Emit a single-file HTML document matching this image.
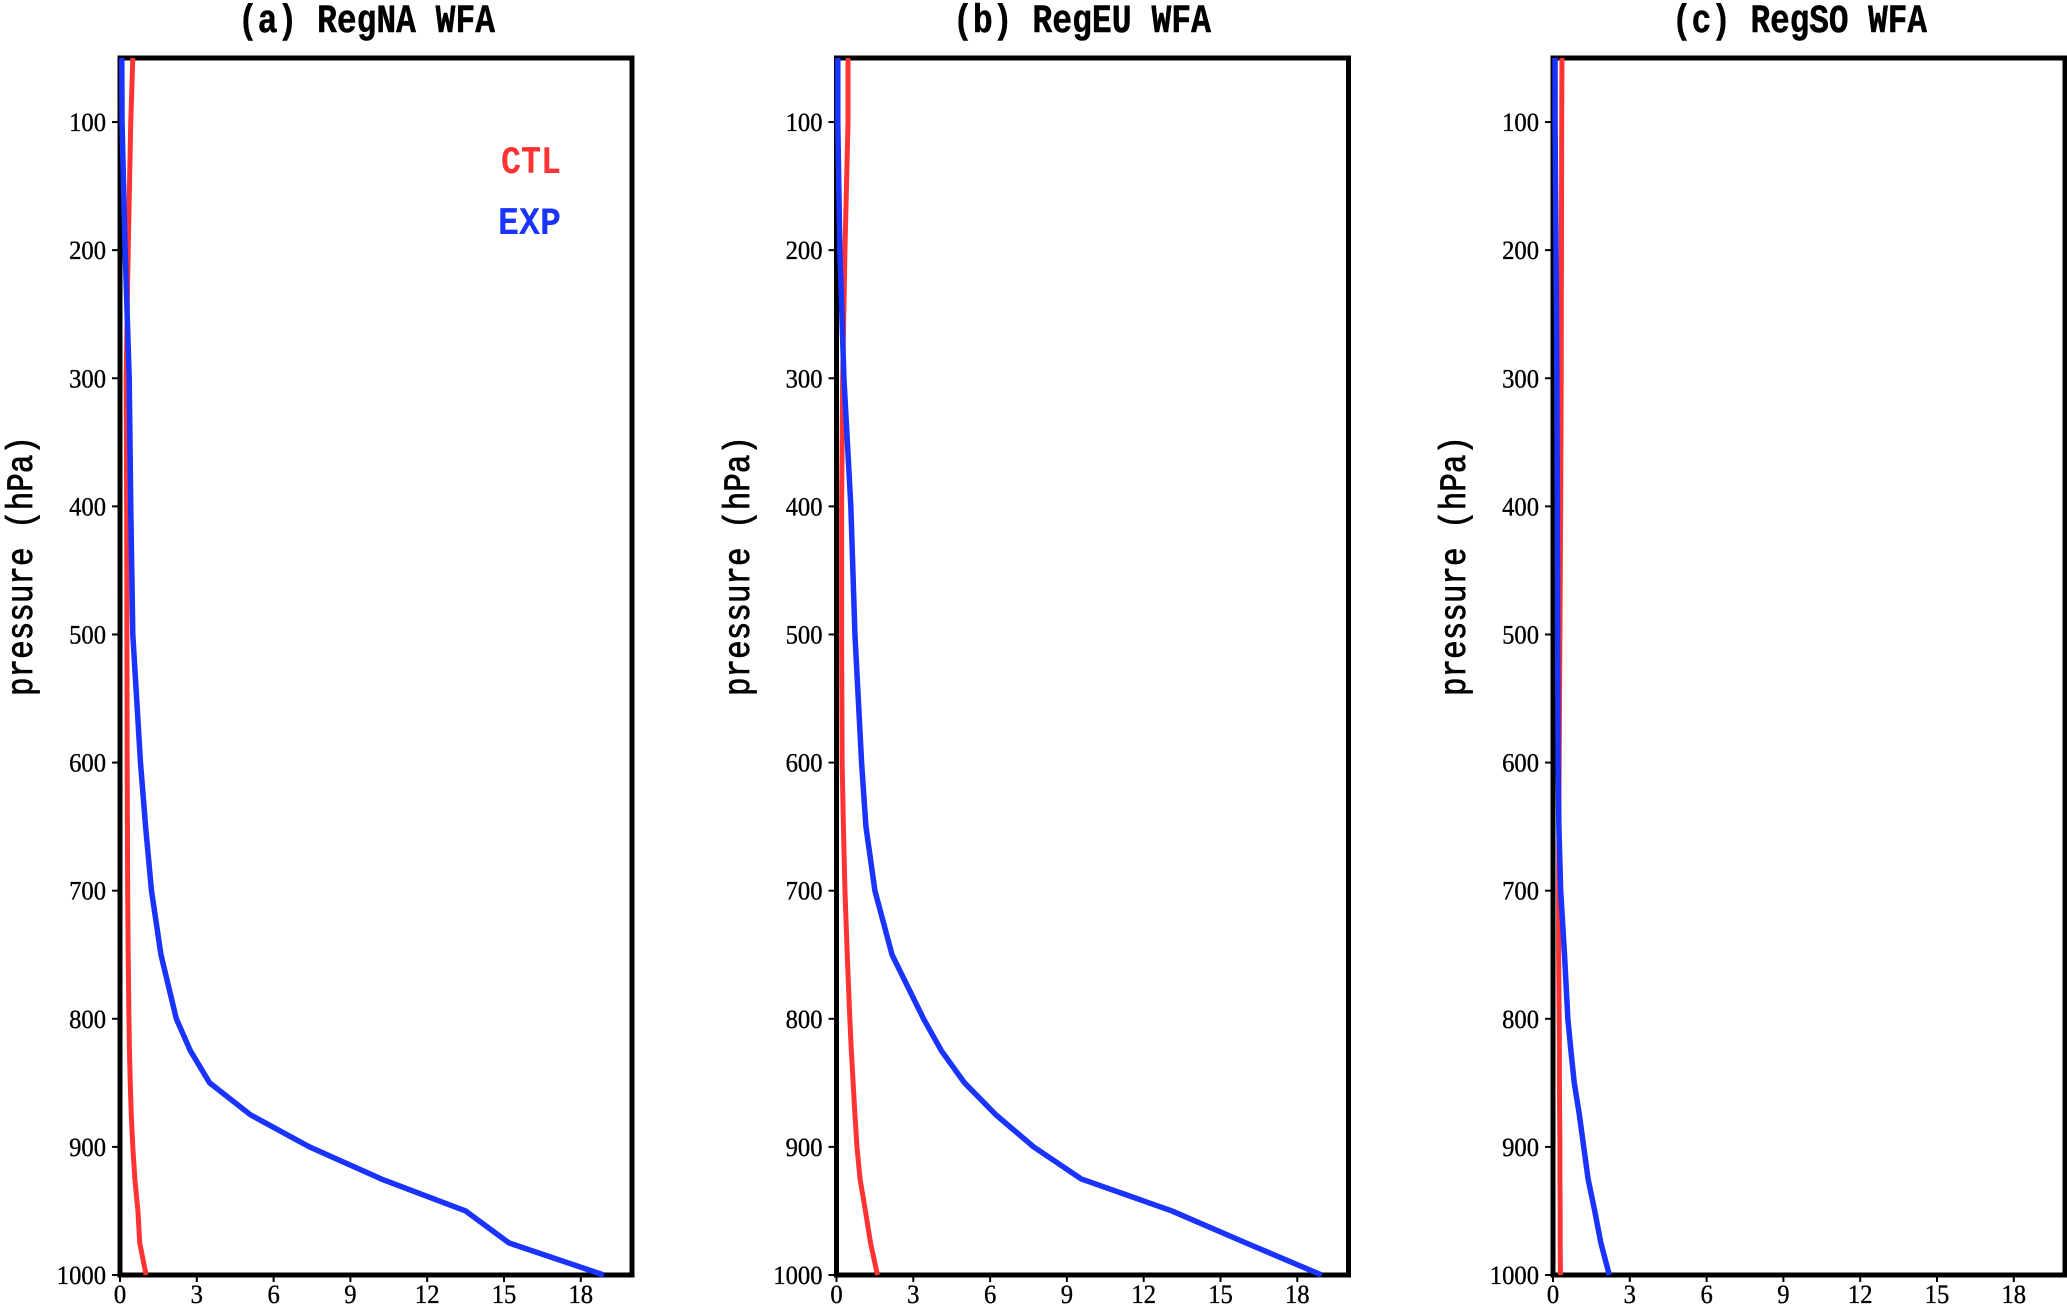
<!DOCTYPE html>
<html>
<head>
<meta charset="utf-8">
<title>WFA pressure profiles</title>
<style>
html,body{margin:0;padding:0;background:#fff;width:2067px;height:1304px;overflow:hidden}
svg{display:block}
.title{font-family:"Liberation Mono",monospace;font-weight:bold;font-size:40px;fill:#000;stroke:#000;stroke-width:.5px}
.ylabel{font-family:"Liberation Mono",monospace;font-size:37px;fill:#000;stroke:#000;stroke-width:.8px}
.legend{font-family:"Liberation Mono",monospace;font-weight:bold;font-size:39px}
.tick{font-family:"Liberation Serif",serif;font-size:26px;fill:#000;stroke:#000;stroke-width:.35px}
</style>
</head>
<body>
<svg id="chart" xmlns="http://www.w3.org/2000/svg" width="2067" height="1304" viewBox="0 0 2067 1304">
  <rect x="0" y="0" width="2067" height="1304" fill="#fff"/>
  <text class="title" x="238" y="32" textLength="257" lengthAdjust="spacingAndGlyphs">(a) RegNA WFA</text>
  <text class="title" x="953" y="32" textLength="258" lengthAdjust="spacingAndGlyphs">(b) RegEU WFA</text>
  <text class="title" x="1672" y="32" textLength="255" lengthAdjust="spacingAndGlyphs">(c) RegSO WFA</text>
  <text class="ylabel" transform="translate(32,696) rotate(-90)" textLength="260" lengthAdjust="spacingAndGlyphs">pressure (hPa)</text>
  <text class="ylabel" transform="translate(749,696) rotate(-90)" textLength="260" lengthAdjust="spacingAndGlyphs">pressure (hPa)</text>
  <text class="ylabel" transform="translate(1465,696) rotate(-90)" textLength="260" lengthAdjust="spacingAndGlyphs">pressure (hPa)</text>
  <g id="plots"></g>
  <text class="legend" x="501" y="173" fill="#ff3333" textLength="60" lengthAdjust="spacingAndGlyphs">CTL</text>
  <text class="legend" x="498" y="234" fill="#1a33ff" textLength="63" lengthAdjust="spacingAndGlyphs">EXP</text>
</svg>
<script>
const pressureTicks = [100,200,300,400,500,600,700,800,900,1000];
const valueTicks = [0,3,6,9,12,15,18];
const levels = [50,100,200,300,400,500,600,650,700,750,800,825,850,875,900,925,950,975,1000];

const ctlA = [0.50,0.42,0.32,0.24,0.26,0.27,0.28,0.29,0.30,0.32,0.35,0.37,0.40,0.44,0.50,0.58,0.70,0.77,1.02];
const expA = [0.07,0.08,0.20,0.36,0.42,0.50,0.80,1.00,1.23,1.60,2.20,2.75,3.50,5.10,7.40,10.2,13.5,15.2,18.9];
const ctlB = [0.45,0.45,0.33,0.24,0.20,0.20,0.22,0.27,0.33,0.42,0.52,0.58,0.65,0.72,0.80,0.92,1.13,1.33,1.60];
const expB = [0.05,0.05,0.13,0.29,0.56,0.72,0.98,1.15,1.50,2.17,3.40,4.10,5.00,6.23,7.70,9.56,13.1,16.0,18.95];
const ctlC = [0.35,0.34,0.33,0.32,0.30,0.27,0.24,0.23,0.22,0.22,0.24,0.25,0.25,0.26,0.27,0.27,0.28,0.28,0.29];
const expC = [0.08,0.08,0.12,0.15,0.17,0.18,0.20,0.23,0.30,0.45,0.58,0.70,0.83,1.03,1.20,1.37,1.63,1.87,2.20];

const panelNames = ['a','b','c'];
const ctlSeries = [ctlA,ctlB,ctlC];
const expSeries = [expA,expB,expC];
const panelLefts = [120,836.5,1553];

const NS = 'http://www.w3.org/2000/svg';
const plotTop = 58, plotBottom = 1275, plotWidth = 512;
const pMin = 50, pMax = 1000, vMax = 20;
const digitWidth = 12.3;
const yScale = p => plotTop + (p - pMin) / (pMax - pMin) * (plotBottom - plotTop);
const xScale = (v, left) => left + v / vMax * plotWidth;
const root = document.getElementById('plots');

panelNames.forEach((name, i) => {
  const left = panelLefts[i];
  const g = document.createElementNS(NS, 'g');
  
  
  root.appendChild(g);

  pressureTicks.forEach(p => {
    const t = document.createElementNS(NS, 'line');
    
    
    t.setAttribute('x1', left - 8);
    t.setAttribute('x2', left);
    t.setAttribute('y1', yScale(p));
    t.setAttribute('y2', yScale(p));
    t.setAttribute('stroke', '#000');
    t.setAttribute('stroke-width', '2');
    g.appendChild(t);
    const l = document.createElementNS(NS, 'text');
    
    
    l.setAttribute('class', 'tick');
    l.setAttribute('x', left - 14);
    l.setAttribute('y', yScale(p) + 9);
    l.setAttribute('text-anchor', 'end');
    l.setAttribute('textLength', String(p).length * digitWidth);
    l.setAttribute('lengthAdjust', 'spacingAndGlyphs');
    l.textContent = p;
    g.appendChild(l);
  });

  valueTicks.forEach(v => {
    const t = document.createElementNS(NS, 'line');
    
    
    t.setAttribute('x1', xScale(v, left));
    t.setAttribute('x2', xScale(v, left));
    t.setAttribute('y1', plotBottom);
    t.setAttribute('y2', plotBottom + 7);
    t.setAttribute('stroke', '#000');
    t.setAttribute('stroke-width', '2');
    g.appendChild(t);
    const l = document.createElementNS(NS, 'text');
    
    
    l.setAttribute('class', 'tick');
    l.setAttribute('x', xScale(v, left));
    l.setAttribute('y', 1303);
    l.setAttribute('text-anchor', 'middle');
    l.setAttribute('textLength', String(v).length * digitWidth);
    l.setAttribute('lengthAdjust', 'spacingAndGlyphs');
    l.textContent = v;
    g.appendChild(l);
  });

  const frame = document.createElementNS(NS, 'rect');
  
  
  frame.setAttribute('x', left);
  frame.setAttribute('y', plotTop);
  frame.setAttribute('width', plotWidth);
  frame.setAttribute('height', plotBottom - plotTop);
  frame.setAttribute('fill', 'none');
  frame.setAttribute('stroke', '#000');
  frame.setAttribute('stroke-width', '5');
  g.appendChild(frame);

  const ctl = document.createElementNS(NS, 'polyline');
  
  
  ctl.setAttribute('points', levels.map((p, k) => xScale(ctlSeries[i][k], left) + ',' + yScale(p)).join(' '));
  ctl.setAttribute('fill', 'none');
  ctl.setAttribute('stroke', '#ff3333');
  ctl.setAttribute('stroke-width', '5');
  ctl.setAttribute('stroke-linejoin', 'round');
  g.appendChild(ctl);

  const exp = document.createElementNS(NS, 'polyline');
  
  
  exp.setAttribute('points', levels.map((p, k) => xScale(expSeries[i][k], left) + ',' + yScale(p)).join(' '));
  exp.setAttribute('fill', 'none');
  exp.setAttribute('stroke', '#1a33ff');
  exp.setAttribute('stroke-width', '5.5');
  exp.setAttribute('stroke-linejoin', 'round');
  g.appendChild(exp);
});
</script>
</body>
</html>
